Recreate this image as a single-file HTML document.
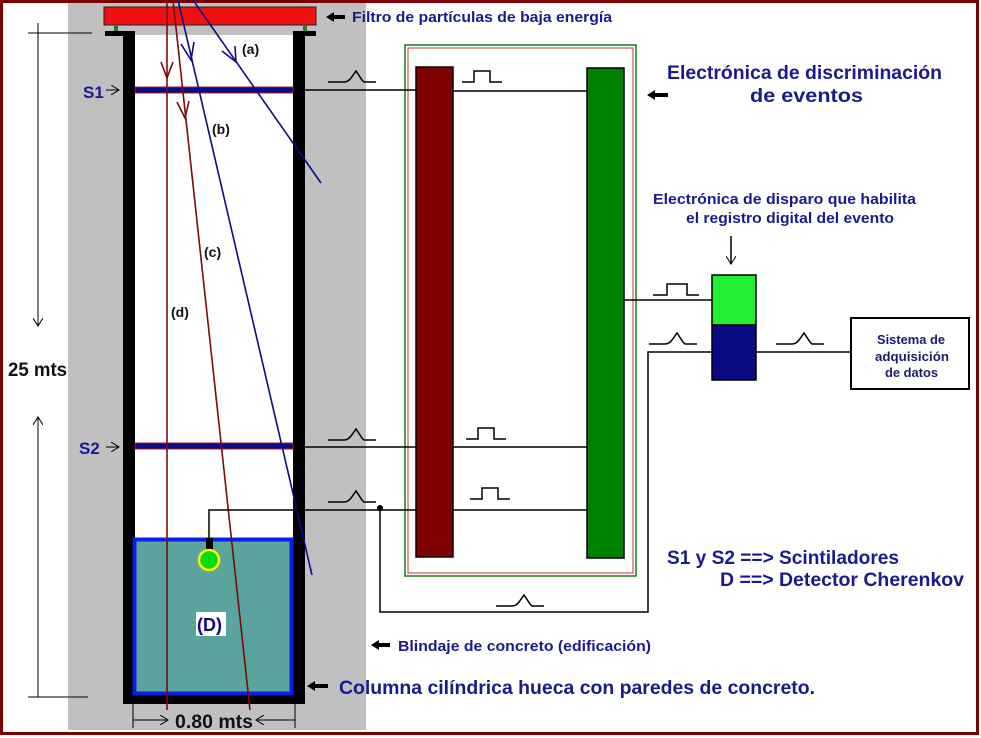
<!DOCTYPE html>
<html><head><meta charset="utf-8"><style>
html,body{margin:0;padding:0;background:#fff}
svg{display:block}
text{font-family:"Liberation Sans",Arial,sans-serif;font-weight:bold}
</style></head><body>
<svg width="981" height="738" viewBox="0 0 981 738" xmlns="http://www.w3.org/2000/svg">
<defs>
<marker id="ab" markerWidth="10" markerHeight="10" refX="8" refY="5" orient="auto" markerUnits="userSpaceOnUse"><path d="M0,0 L8,5 L0,10" fill="none" stroke="#000" stroke-width="1"/></marker>
</defs>
<rect x="1.5" y="1.5" width="976" height="732" fill="#fff" stroke="#7a0000" stroke-width="3"/>
<rect x="68" y="3" width="298" height="727" fill="#c0c0c0"/>
<rect x="135" y="35" width="158" height="658" fill="#fff"/>
<rect x="104" y="7" width="212" height="18" fill="#ee1111" stroke="#222" stroke-width="1"/>
<rect x="114" y="25" width="4" height="6" fill="#2a7a2a"/>
<rect x="303" y="25" width="4" height="6" fill="#2a7a2a"/>
<rect x="105" y="31" width="30" height="5" fill="#000"/>
<rect x="293" y="31" width="23" height="5" fill="#000"/>
<rect x="123" y="31" width="12" height="673" fill="#000"/>
<rect x="293" y="31" width="12" height="673" fill="#000"/>
<rect x="123" y="693" width="182" height="11" fill="#000"/>
<rect x="134.5" y="539.5" width="157" height="154" fill="#5ba39d" stroke="#0a1ee6" stroke-width="4"/>
<rect x="135" y="87" width="158" height="6" fill="#0a0a8a" stroke="#a02020" stroke-width="1"/>
<rect x="135" y="443" width="158" height="6" fill="#0a0a8a" stroke="#a02020" stroke-width="1"/>
<g fill="none" stroke-width="1.6">
<line x1="167" y1="0" x2="167" y2="710" stroke="#7a0a0a"/>
<line x1="173" y1="0" x2="250" y2="710" stroke="#7a0a0a"/>
<line x1="178" y1="0" x2="312" y2="575" stroke="#0a0a8a"/>
<line x1="193" y1="0" x2="321" y2="183" stroke="#0a0a8a"/>
<path d="M161,62 L167,78 L173,62" stroke="#7a0a0a"/>
<path d="M177,102 L185,118 L189,101" stroke="#7a0a0a"/>
<path d="M181,44 L191,60 L194,42" stroke="#0a0a8a"/>
<path d="M222,51 L236,62 L235,46" stroke="#0a0a8a"/>
</g>
<rect x="206" y="538" width="7" height="12" fill="#000"/>
<circle cx="209" cy="560" r="10" fill="#00dd00" stroke="#ffff00" stroke-width="2.5"/>
<text x="242" y="54" font-size="14" fill="#111">(a)</text>
<text x="212" y="134" font-size="14" fill="#111">(b)</text>
<text x="204" y="257" font-size="14" fill="#111">(c)</text>
<text x="171" y="317" font-size="14" fill="#111">(d)</text>
<rect x="196" y="612" width="30" height="24" fill="#fff"/>
<text x="197" y="631" font-size="18" fill="#0a0a8a">(D)</text>
<text x="83" y="98" font-size="17" fill="#1a1a8c">S1</text>
<text x="79" y="454" font-size="17" fill="#1a1a8c">S2</text>
<g stroke="#000" stroke-width="1" fill="none">
<line x1="106" y1="90" x2="119" y2="90" marker-end="url(#ab)"/>
<line x1="106" y1="447" x2="119" y2="447" marker-end="url(#ab)"/>
<line x1="28" y1="33" x2="92" y2="33"/>
<line x1="38" y1="23" x2="38" y2="326" marker-end="url(#ab)"/>
<line x1="38" y1="697" x2="38" y2="417" marker-end="url(#ab)"/>
<line x1="28" y1="697" x2="88" y2="697"/>
<line x1="133" y1="704" x2="133" y2="728"/>
<line x1="295" y1="704" x2="295" y2="728"/>
<line x1="133" y1="720" x2="168" y2="720" marker-end="url(#ab)"/>
<line x1="295" y1="720" x2="256" y2="720" marker-end="url(#ab)"/>
</g>
<text x="8" y="376" font-size="19" fill="#111" textLength="59" lengthAdjust="spacingAndGlyphs">25 mts</text>
<text x="175" y="728" font-size="19" fill="#111" textLength="78" lengthAdjust="spacingAndGlyphs">0.80 mts</text>
<rect x="405" y="45" width="231" height="531" fill="#fff" stroke="#1a7a1a" stroke-width="1.5"/>
<rect x="408" y="48" width="225" height="525" fill="none" stroke="#b04030" stroke-width="1"/>
<rect x="416" y="67" width="37" height="490" fill="#800000" stroke="#000" stroke-width="1.5"/>
<rect x="587" y="68" width="37" height="490" fill="#008000" stroke="#000" stroke-width="1.5"/>
<g stroke="#000" stroke-width="1.5" fill="none">
<line x1="305" y1="90" x2="416" y2="90"/>
<line x1="453" y1="91" x2="587" y2="91"/>
<line x1="305" y1="447" x2="416" y2="447"/>
<line x1="453" y1="447" x2="587" y2="447"/>
<line x1="305" y1="510" x2="416" y2="510"/>
<line x1="453" y1="510" x2="587" y2="510"/>
<path d="M209,538 L209,510 L305,510"/>
<path d="M380,508 L380,612 L648,612 L648,352 L712,352"/>
<line x1="624" y1="300" x2="712" y2="300"/>
<line x1="756" y1="352" x2="851" y2="352"/>
<line x1="731" y1="236" x2="731" y2="264" marker-end="url(#ab)"/>
<path d="M328,82 h16 q4,0 7,-4 l5,-7 l6,9 l2,2 h12"/>
<path d="M328,440 h16 q4,0 7,-4 l5,-7 l6,9 l2,2 h12"/>
<path d="M328,502 h16 q4,0 7,-4 l5,-7 l6,9 l2,2 h12"/>
<path d="M496,606 h16 q4,0 7,-4 l5,-7 l6,9 l2,2 h12"/>
<path d="M649,344 h16 q4,0 7,-4 l5,-7 l6,9 l2,2 h12"/>
<path d="M776,344 h16 q4,0 7,-4 l5,-7 l6,9 l2,2 h12"/>
<path d="M462,82 h12 v-11 h16 v11 h12"/>
<path d="M466,439 h12 v-11 h16 v11 h12"/>
<path d="M470,499 h12 v-11 h16 v11 h12"/>
<path d="M653,295 h14 v-11 h20 v11 h12"/>
</g>
<circle cx="380" cy="508" r="3" fill="#000"/>
<rect x="712" y="275" width="44" height="50" fill="#22ee33" stroke="#000" stroke-width="1.5"/>
<rect x="712" y="325" width="44" height="55" fill="#0a0a80" stroke="#000" stroke-width="1.5"/>
<rect x="851" y="318" width="118" height="71" fill="#fff" stroke="#000" stroke-width="2"/>
<g fill="#1a1a6c" font-size="13">
<text x="877" y="344" textLength="68" lengthAdjust="spacingAndGlyphs">Sistema de</text>
<text x="875" y="361" textLength="74" lengthAdjust="spacingAndGlyphs">adquisición</text>
<text x="885" y="377" textLength="53" lengthAdjust="spacingAndGlyphs">de datos</text>
</g>
<g fill="#000">
<path d="M326,17 l8,-5 v3 h11 v4 h-11 v3z"/>
<path d="M647,95 l8,-5 v3 h13 v4 h-13 v3z"/>
<path d="M371,645 l8,-5 v3 h11 v4 h-11 v3z"/>
<path d="M307,686 l8,-5 v3 h13 v4 h-13 v3z"/>
</g>
<g fill="#1a1a8c" lengthAdjust="spacingAndGlyphs">
<text x="352" y="22" font-size="15" textLength="260" lengthAdjust="spacingAndGlyphs">Filtro de partículas de baja energía</text>
<text x="667" y="79" font-size="19" textLength="275" lengthAdjust="spacingAndGlyphs">Electrónica de discriminación</text>
<text x="750" y="102" font-size="19" textLength="113" lengthAdjust="spacingAndGlyphs">de eventos</text>
<text x="653" y="204" font-size="14.5" textLength="263" lengthAdjust="spacingAndGlyphs">Electrónica de disparo que habilita</text>
<text x="686" y="223" font-size="14.5" textLength="208" lengthAdjust="spacingAndGlyphs">el registro digital del evento</text>
<text x="667" y="564" font-size="19" textLength="232" lengthAdjust="spacingAndGlyphs">S1 y S2 ==&gt; Scintiladores</text>
<text x="720" y="586" font-size="19" textLength="244" lengthAdjust="spacingAndGlyphs">D ==&gt; Detector Cherenkov</text>
<text x="398" y="651" font-size="15" textLength="253" lengthAdjust="spacingAndGlyphs">Blindaje de concreto (edificación)</text>
<text x="339" y="694" font-size="19" textLength="476" lengthAdjust="spacingAndGlyphs">Columna cilíndrica hueca con paredes de concreto.</text>
</g>
</svg>
</body></html>
